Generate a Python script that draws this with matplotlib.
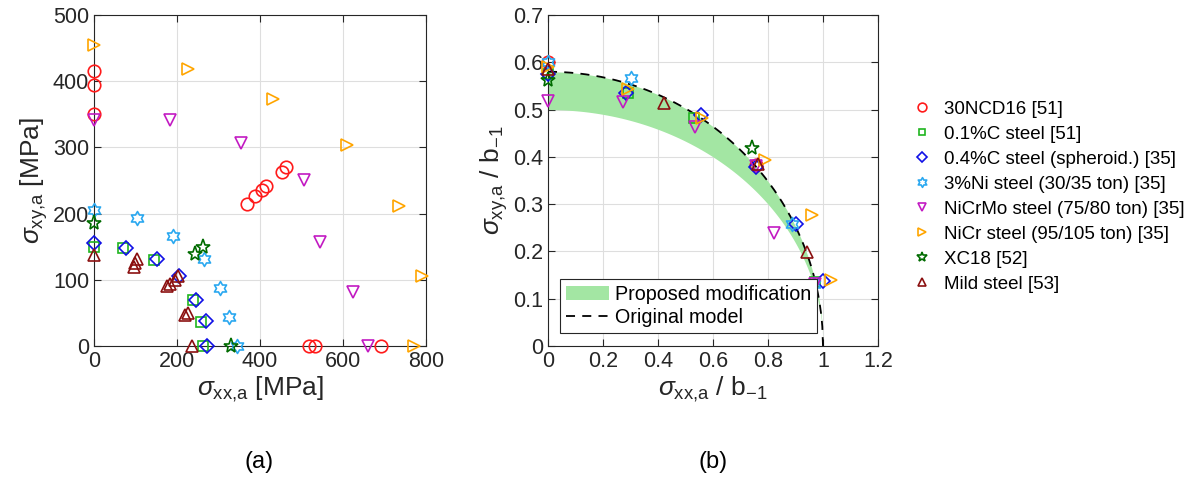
import numpy as np
import matplotlib
matplotlib.use("Agg")
import matplotlib.pyplot as plt
from matplotlib.path import Path
from matplotlib.patches import Patch
from matplotlib.lines import Line2D

plt.rcParams['font.family'] = ['Liberation Sans', 'DejaVu Sans']
plt.rcParams['mathtext.fontset'] = 'custom'
plt.rcParams['mathtext.rm'] = 'Liberation Sans'
plt.rcParams['mathtext.it'] = 'Liberation Sans:italic'

# ---- materials (legend order) ----
labels = ["30NCD16 [51]", "0.1%C steel [51]", "0.4%C steel (spheroid.) [35]",
          "3%Ni steel (30/35 ton) [35]", "NiCrMo steel (75/80 ton) [35]",
          "NiCr steel (95/105 ton) [35]", "XC18 [52]", "Mild steel [53]"]
colors = ["#ff1a1a", "#1fb51f", "#1010e6", "#2aa8f0", "#c21ac2", "#ffa500", "#006b00", "#8b1010"]
hexagram = Path.unit_regular_star(6, 0.577)
markers = ["o", "s", "D", hexagram, "v", ">", "*", "^"]
msizes = [9, 7, 7, 10, 9, 9, 11, 9]

# ---- (a) raw amplitudes [MPa] ----
a_xx = [
    [0, 0, 0, 368, 388, 404, 414, 452, 462, 517, 533, 692],
    [0, 70, 145, 239, 257, 262],
    [0, 77, 153, 206, 246, 271, 272],
    [0, 104, 190, 264, 304, 326, 344],
    [0, 183, 354, 505, 545, 623, 660],
    [0, 227, 431, 609, 736, 790, 772],
    [0, 243, 262, 330],
    [0, 97, 99, 103, 175, 183, 195, 203, 219, 227, 235],
]
a_xy = [
    [415, 395, 350, 215, 226, 235, 241, 263, 270, 0, 0, 0],
    [150, 148, 130, 70, 37, 0],
    [156, 148, 132, 106, 70, 38, 0],
    [205, 194, 166, 132, 88, 44, 0],
    [342, 342, 306, 251, 157, 82, 0],
    [455, 418, 373, 303, 212, 106, 0],
    [186, 139, 150, 0],
    [138, 120, 125, 132, 90, 94, 100, 105, 47, 50, 0],
]

# ---- (b) normalised by b_-1 ----
b_xx = [
    [0, 0.757],
    [0, 0.29, 0.532, 0.972],
    [0, 0.285, 0.556, 0.758, 0.902, 0.999],
    [0, 0.300, 0.886, 0.968],
    [0, 0.274, 0.535, 0.756, 0.820, 0.970],
    [0, 0.292, 0.559, 0.790, 0.959, 1.028],
    [0, 0.741],
    [0, 0.423, 0.765, 0.941],
]
b_xy = [
    [0.600, 0.382],
    [0.575, 0.535, 0.482, 0.135],
    [0.575, 0.536, 0.488, 0.378, 0.258, 0.138],
    [0.600, 0.567, 0.257, 0.132],
    [0.518, 0.517, 0.464, 0.380, 0.238, 0.132],
    [0.590, 0.543, 0.483, 0.393, 0.277, 0.140],
    [0.563, 0.418],
    [0.585, 0.513, 0.385, 0.199],
]

# model curves: quarter ellipses, torsion/bending ratio
orig_ratio = 0.58
low_ratio = 0.50

fig = plt.figure(figsize=(11.93, 4.78), dpi=100)
axA = fig.add_axes([94 / 1193, 132 / 478, 332 / 1193, 331 / 478])
axB = fig.add_axes([548 / 1193, 132 / 478, 330 / 1193, 331 / 478])

for ax in (axA, axB):
    ax.grid(True, color="#dedede", linewidth=0.8)
    ax.set_axisbelow(True)
    ax.tick_params(direction="in", top=True, right=True, length=5, labelsize=15.5,
                   colors="#262626", width=0.8)
    for s in ax.spines.values():
        s.set_color("#262626")
        s.set_linewidth(0.8)

handles = []
for i in range(len(labels)):
    kw = dict(linestyle="none", marker=markers[i], ms=msizes[i], mfc="none",
              mec=colors[i], mew=1.2, clip_on=False, zorder=3 + i)
    h, = axA.plot(a_xx[i], a_xy[i], **kw)
    axB.plot(b_xx[i], b_xy[i], **kw)
    handles.append(h)

axA.set_xlim(0, 800)
axA.set_ylim(0, 500)
axA.set_xticks(np.arange(0, 801, 200))
axA.set_yticks(np.arange(0, 501, 100))
axA.set_xlabel(r"$\sigma_{\mathrm{xx{,}a}}$ [MPa]", fontsize=19, color="#262626", labelpad=2)
axA.set_ylabel(r"$\sigma_{\mathrm{xy{,}a}}$ [MPa]", fontsize=19, color="#262626", labelpad=2)

xc = np.linspace(0, 1, 400)
up = orig_ratio * np.sqrt(1 - xc ** 2)
lo = low_ratio * np.sqrt(1 - xc ** 2)
band = axB.fill_between(xc, lo, up, color="#a3e6a3", linewidth=0, zorder=1)
dash, = axB.plot(xc, up, "--", color="black", linewidth=1.3, dashes=(5, 4), zorder=2)

axB.set_xlim(0, 1.2)
axB.set_ylim(0, 0.7)
axB.set_xticks(np.arange(0, 1.21, 0.2))
axB.set_yticks(np.arange(0, 0.71, 0.1))
axB.set_xticklabels(["0", "0.2", "0.4", "0.6", "0.8", "1", "1.2"])
axB.set_yticklabels(["0", "0.1", "0.2", "0.3", "0.4", "0.5", "0.6", "0.7"])
axB.set_xlabel(r"$\sigma_{\mathrm{xx{,}a}}$ / b$_{\mathrm{-1}}$", fontsize=19, color="#262626", labelpad=2)
axB.set_ylabel(r"$\sigma_{\mathrm{xy{,}a}}$ / b$_{\mathrm{-1}}$", fontsize=19, color="#262626", labelpad=2)

lg = axB.legend([Patch(facecolor="#a3e6a3", edgecolor="none"),
                 Line2D([], [], color="black", linestyle="--", dashes=(5, 4), linewidth=1.3)],
                ["Proposed modification", "Original model"],
                loc="lower left", bbox_to_anchor=(0.036, 0.039), borderaxespad=0,
                fontsize=14.2, fancybox=False, framealpha=1, edgecolor="#262626",
                handlelength=2.2, handletextpad=0.3, borderpad=0.3, labelspacing=0.2)
lg.get_frame().set_linewidth(0.8)
lg.set_zorder(20)

fig.legend(handles, labels, loc="upper left", bbox_to_anchor=(903 / 1193, 1 - 93 / 478),
           frameon=False, fontsize=13.5, markerscale=0.7, handlelength=1.2,
           handletextpad=0.6, labelspacing=0.42, borderaxespad=0)

fig.text(259 / 1193, 1 - 462 / 478, "(a)", ha="center", va="center", fontsize=17)
fig.text(713 / 1193, 1 - 462 / 478, "(b)", ha="center", va="center", fontsize=17)

fig.savefig("out.png", dpi=100)
